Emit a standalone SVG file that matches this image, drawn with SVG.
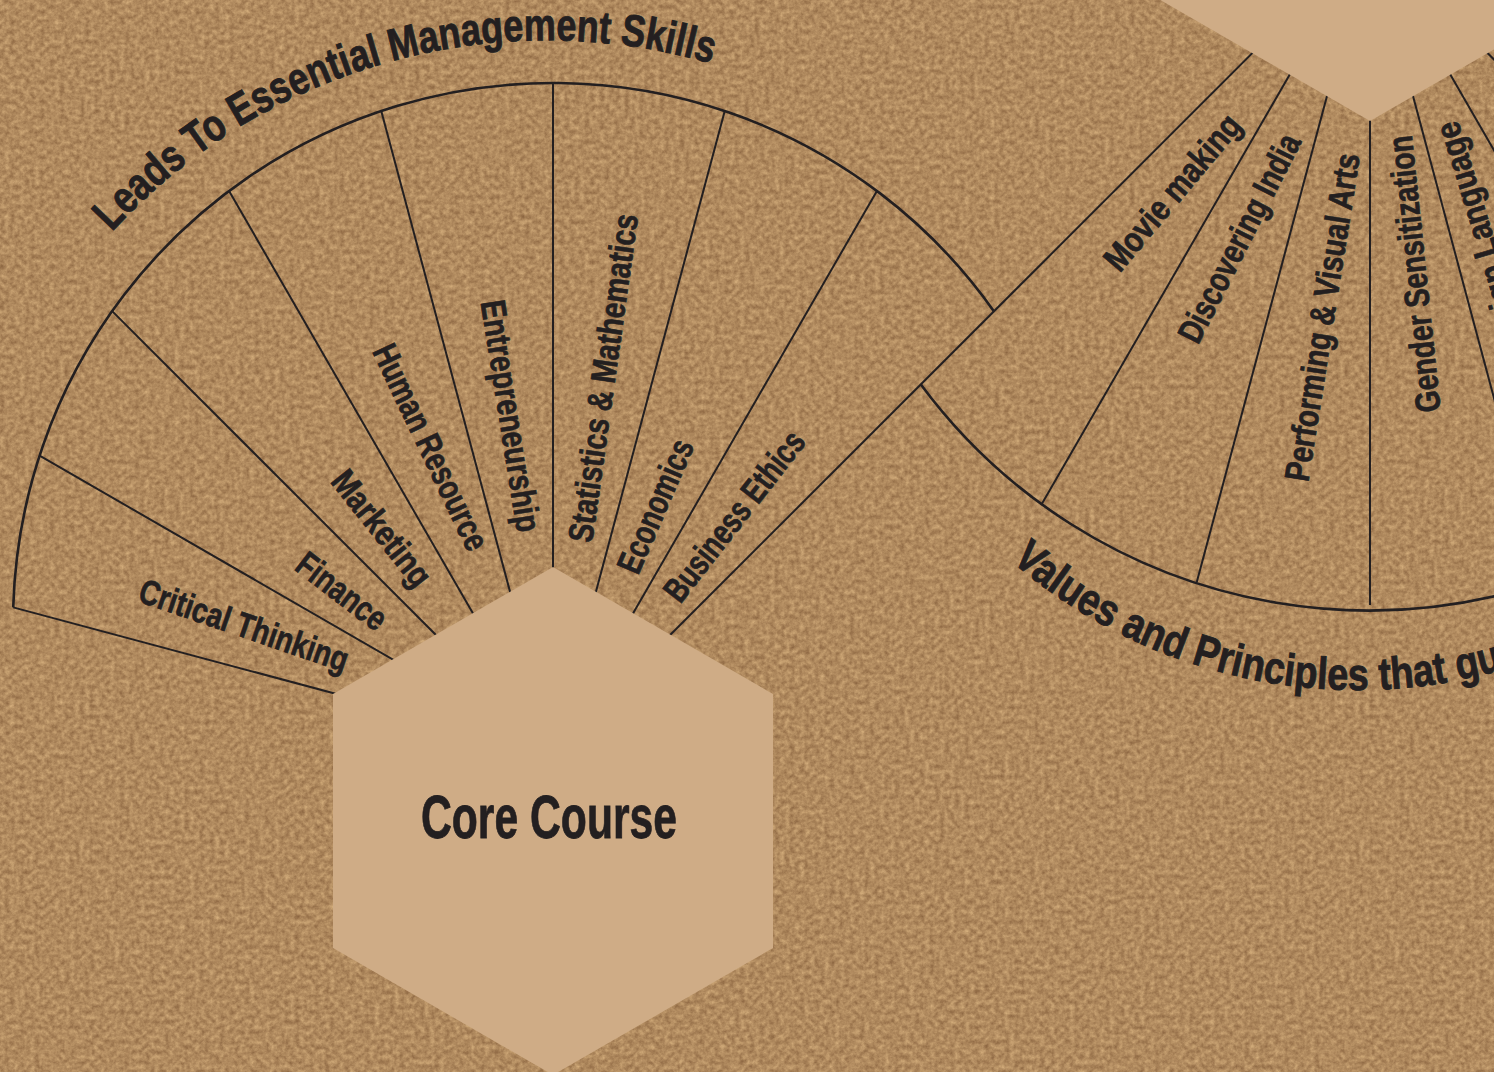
<svg xmlns="http://www.w3.org/2000/svg" width="1494" height="1072" viewBox="0 0 1494 1072">
<defs>
<style>
.ln{stroke:#231f20;stroke-width:2;fill:none;stroke-linecap:butt}
.arc{stroke:#231f20;stroke-width:2.6;fill:none}
.hex{fill:#cfac86}
.lbl{font-family:"Liberation Sans Narrow","Liberation Sans","DejaVu Sans Condensed",sans-serif;font-weight:bold;font-size:35px;fill:#231f20;stroke:#231f20;stroke-width:0.7}
.ttl{font-family:"Liberation Sans Narrow","Liberation Sans","DejaVu Sans Condensed",sans-serif;font-weight:bold;font-size:45px;fill:#231f20;stroke:#231f20;stroke-width:0.9}
.core{font-family:"Liberation Sans Narrow","Liberation Sans","DejaVu Sans Condensed",sans-serif;font-weight:bold;font-size:61px;fill:#231f20;stroke:#231f20;stroke-width:0.8}
</style>
<filter id="paper" filterUnits="userSpaceOnUse" x="0" y="0" width="1494" height="1072" color-interpolation-filters="sRGB">
<feTurbulence type="fractalNoise" baseFrequency="0.2" numOctaves="4" seed="11" result="n"/>
<feColorMatrix in="n" type="matrix" values="0.32 0 0 0 0.53  0.32 0 0 0 0.38  0.26 0 0 0 0.24  0 0 0 0 1"/>
</filter>
<path id="titlePath" d="M111.77,232.02 A591,591 0 0,1 711.39,63.48"/>
<path id="valuesPath" d="M1011.3,561.1 A528,528 0 0,0 1761.5,501.4"/>
</defs>

<rect x="0" y="0" width="1494" height="1072" fill="#b08a5e"/>
<rect x="0" y="0" width="1494" height="1072" filter="url(#paper)"/>

<g id="connectors">
  <path class="arc" d="M13.22,607.37 A540,540 0 0,1 993.85,311.15"/>
  <path class="arc" d="M920.7,384.3 A557.5,557.5 0 0,0 1684,513"/>
  <line class="ln" x1="553" y1="752" x2="13.22" y2="607.37"/>
  <line class="ln" x1="553" y1="752" x2="39.6" y2="455.59"/>
  <line class="ln" x1="553" y1="752" x2="112.15" y2="311.15"/>
  <line class="ln" x1="553" y1="752" x2="229.07" y2="190.95"/>
  <line class="ln" x1="553" y1="752" x2="381.26" y2="111.04"/>
  <line class="ln" x1="553" y1="752" x2="553" y2="83"/>
  <line class="ln" x1="553" y1="752" x2="724.74" y2="111.04"/>
  <line class="ln" x1="553" y1="752" x2="876.93" y2="190.95"/>
  <line class="ln" x1="553" y1="752" x2="1370" y2="-64.5"/>
  <line class="ln" x1="1370" y1="-64.5" x2="1041.2" y2="504.9"/>
  <line class="ln" x1="1370" y1="-64.5" x2="1196.8" y2="582"/>
  <line class="ln" x1="1370" y1="-64.5" x2="1370" y2="605"/>
  <line class="ln" x1="1370" y1="-64.5" x2="1542.9" y2="580.7"/>
  <line class="ln" x1="1370" y1="-64.5" x2="1700" y2="507"/>
  <line class="ln" x1="1370" y1="-64.5" x2="1820" y2="385.5"/>
</g>

<g id="node-core-course">
  <polygon class="hex" points="553,567 773,694 773,948 553,1075 333,948 333,694"/>
  <text class="core" x="549" y="838" text-anchor="middle" textLength="256" lengthAdjust="spacingAndGlyphs">Core Course</text>
</g>

<g id="node-top-hexagon">
  <polygon class="hex" points="1370,121 1150,-6 1150,-260 1370,-387 1590,-260 1590,-6"/>
</g>

<g id="title-management">
  <text class="ttl"><textPath href="#titlePath" textLength="656" lengthAdjust="spacingAndGlyphs">Leads To Essential Management Skills</textPath></text>
</g>

<g id="title-values">
  <text class="ttl"><textPath href="#valuesPath" textLength="525" lengthAdjust="spacingAndGlyphs">Values and Principles that gu</textPath></text>
</g>

<g id="node-critical-thinking">
  <text class="lbl" transform="translate(244,625) rotate(19)" text-anchor="middle" dy="0.35em" textLength="219" lengthAdjust="spacingAndGlyphs">Critical Thinking</text>
</g>
<g id="node-finance">
  <text class="lbl" transform="translate(342,591) rotate(37.5)" text-anchor="middle" dy="0.35em" textLength="104" lengthAdjust="spacingAndGlyphs">Finance</text>
</g>
<g id="node-marketing">
  <text class="lbl" transform="translate(382,528) rotate(51.5)" text-anchor="middle" dy="0.35em" textLength="138" lengthAdjust="spacingAndGlyphs">Marketing</text>
</g>
<g id="node-human-resource">
  <text class="lbl" transform="translate(431,447) rotate(64.5)" text-anchor="middle" dy="0.35em" textLength="224" lengthAdjust="spacingAndGlyphs">Human Resource</text>
</g>
<g id="node-entrepreneurship">
  <text class="lbl" transform="translate(511,416) rotate(81)" text-anchor="middle" dy="0.35em" textLength="234" lengthAdjust="spacingAndGlyphs">Entrepreneurship</text>
</g>
<g id="node-statistics">
  <text class="lbl" transform="translate(603,378) rotate(-82)" text-anchor="middle" dy="0.35em" textLength="331" lengthAdjust="spacingAndGlyphs">Statistics &amp; Mathematics</text>
</g>
<g id="node-economics">
  <text class="lbl" transform="translate(655,506) rotate(-66.5)" text-anchor="middle" dy="0.35em" textLength="142" lengthAdjust="spacingAndGlyphs">Economics</text>
</g>
<g id="node-business-ethics">
  <text class="lbl" transform="translate(734,516) rotate(-52)" text-anchor="middle" dy="0.35em" textLength="206" lengthAdjust="spacingAndGlyphs">Business Ethics</text>
</g>

<g id="node-movie-making">
  <text class="lbl" transform="translate(1172,192) rotate(-50)" text-anchor="middle" dy="0.35em" textLength="192" lengthAdjust="spacingAndGlyphs">Movie making</text>
</g>
<g id="node-discovering-india">
  <text class="lbl" transform="translate(1239,238) rotate(-63)" text-anchor="middle" dy="0.35em" textLength="229" lengthAdjust="spacingAndGlyphs">Discovering India</text>
</g>
<g id="node-performing-arts">
  <text class="lbl" transform="translate(1322,317) rotate(-81)" text-anchor="middle" dy="0.35em" textLength="331" lengthAdjust="spacingAndGlyphs">Performing &amp; Visual Arts</text>
</g>
<g id="node-gender-sensitization">
  <text class="lbl" transform="translate(1414,274) rotate(-96)" text-anchor="middle" dy="0.35em" textLength="278" lengthAdjust="spacingAndGlyphs">Gender Sensitization</text>
</g>
<g id="node-language">
  <text class="lbl" transform="translate(1446,123) rotate(-107)" text-anchor="end" dy="0.35em" textLength="258" lengthAdjust="spacingAndGlyphs">Foreign Language</text>
</g>
</svg>
